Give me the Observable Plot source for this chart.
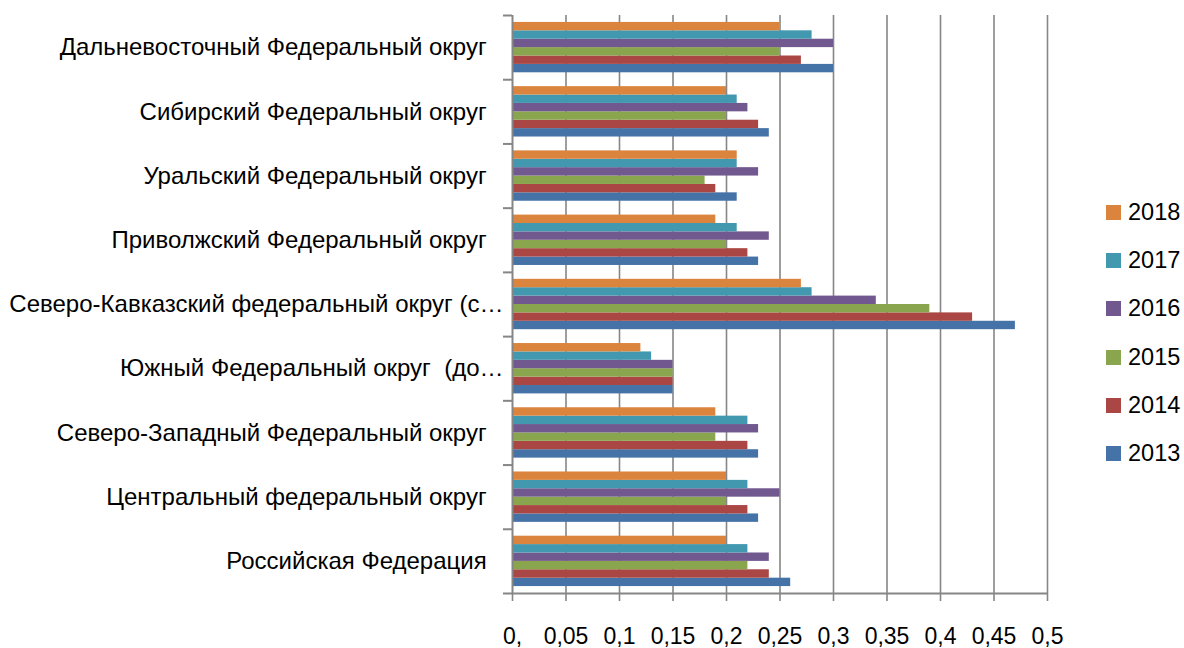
<!DOCTYPE html>
<html>
<head>
<meta charset="utf-8">
<script src="https://cdn.jsdelivr.net/npm/d3@7"></script>
<script src="https://cdn.jsdelivr.net/npm/@observablehq/plot@0.6"></script>
<style>
  html, body { margin: 0; padding: 0; background: #fff; }
  #wrap { position: relative; width: 1184px; height: 648px; overflow: hidden; font-family: "Liberation Sans", Arial, sans-serif; }
  #legend { position: absolute; left: 1106px; top: 0; }
  .item { position: absolute; left: 0; display: flex; align-items: center; white-space: nowrap; font-size: 23.5px; color: #000; height: 30px; }
  .sw { width: 15px; height: 15px; margin-right: 7px; }
  g[aria-label="x-axis"] .tick line, g[aria-label="x-axis tick"] path { stroke: #868686; stroke-width: 1.6px; }
  g[aria-label="x-axis"] text, g[aria-label="x-axis tick label"] text { font-size: 23px; }
</style>
</head>
<body>
<div id="wrap"><div id="legend"></div></div>
<script>
// ---- data ----
const regions = [
  "Дальневосточный Федеральный округ",
  "Сибирский Федеральный округ",
  "Уральский Федеральный округ",
  "Приволжский Федеральный округ",
  "Северо-Кавказский федеральный округ (с…",
  "Южный Федеральный округ  (до…",
  "Северо-Западный Федеральный округ",
  "Центральный федеральный округ",
  "Российская Федерация"
];
const years = [2013, 2014, 2015, 2016, 2017, 2018];
const v2013 = [0.30, 0.24, 0.21, 0.23, 0.47, 0.15, 0.23, 0.23, 0.26];
const v2014 = [0.27, 0.23, 0.19, 0.22, 0.43, 0.15, 0.22, 0.22, 0.24];
const v2015 = [0.25, 0.20, 0.18, 0.20, 0.39, 0.15, 0.19, 0.20, 0.22];
const v2016 = [0.30, 0.22, 0.23, 0.24, 0.34, 0.15, 0.23, 0.25, 0.24];
const v2017 = [0.28, 0.21, 0.21, 0.21, 0.28, 0.13, 0.22, 0.22, 0.22];
const v2018 = [0.25, 0.20, 0.21, 0.19, 0.27, 0.12, 0.19, 0.20, 0.20];
const colors = ["#4572A7", "#AA4643", "#89A54E", "#71588F", "#4198AF", "#DB843D"];
const xTicks = [0, 0.05, 0.1, 0.15, 0.2, 0.25, 0.3, 0.35, 0.4, 0.45, 0.5];
const xTickLabels = ["0,", "0,05", "0,1", "0,15", "0,2", "0,25", "0,3", "0,35", "0,4", "0,45", "0,5"];

// ---- build ----
const seriesValues = [v2013, v2014, v2015, v2016, v2017, v2018];
const rows = [];
years.forEach((yr, k) => regions.forEach((r, i) => rows.push({region: r, year: yr, value: seriesValues[k][i]})));
const colorOf = new Map(years.map((y, k) => [y, colors[k]]));
const labelOf = new Map(xTicks.map((t, i) => [t, xTickLabels[i]]));

const W = 1184, H = 648, mT = 15, mB = 55, mL = 512, mR = 137;
const bw = (H - mT - mB) / regions.length;
const yearsTopDown = years.slice().reverse();
const inner = d3.scaleBand(yearsTopDown, [0, bw]).paddingInner(0).paddingOuter(0.825);
const axisGray = "#868686";

const barMarks = years.map(yr => Plot.barX(rows.filter(d => d.year === yr), {
  x: "value", y: "region", fill: colorOf.get(yr),
  insetTop: inner(yr), insetBottom: bw - inner(yr) - inner.bandwidth()
}));

const chart = Plot.plot({
  width: W, height: H,
  marginTop: mT, marginBottom: mB, marginLeft: mL, marginRight: mR,
  style: {fontFamily: "Liberation Sans, Arial, sans-serif", fontSize: "24px", color: "#000", background: "#fff"},
  x: {domain: [0, 0.5], ticks: xTicks, tickFormat: d => labelOf.get(d), tickSize: 8, tickPadding: 26, label: null},
  y: {domain: regions, padding: 0, round: false, tickSize: 0, tickPadding: 9, label: null,
      tickFormat: d => d.endsWith("…") ? d : d + "\u2002\u2009"},
  marks: [
    Plot.ruleX(xTicks.slice(1), {stroke: axisGray, strokeWidth: 1.6}),
    ...barMarks,
    Plot.ruleX([0], {stroke: axisGray, strokeWidth: 2}),
    Plot.ruleY(regions, {y: d => d, x1: 0, x2: 0, insetLeft: -9, insetRight: 0, dy: -bw / 2, stroke: axisGray, strokeWidth: 2}),
    Plot.ruleY(regions.slice(-1), {y: d => d, x1: 0, x2: 0.5, insetLeft: -9, dy: bw / 2, stroke: axisGray, strokeWidth: 2})
  ]
});
document.getElementById("wrap").prepend(chart);

// legend
const legend = document.getElementById("legend");
const legendTop = 212.5, legendStep = 48.2;
yearsTopDown.forEach((yr, k) => {
  const it = document.createElement("div");
  it.className = "item";
  it.style.top = (legendTop + k * legendStep - 15) + "px";
  const sw = document.createElement("span");
  sw.className = "sw";
  sw.style.background = colorOf.get(yr);
  const tx = document.createElement("span");
  tx.textContent = String(yr);
  it.append(sw, tx);
  legend.append(it);
});
</script>
</body>
</html>
